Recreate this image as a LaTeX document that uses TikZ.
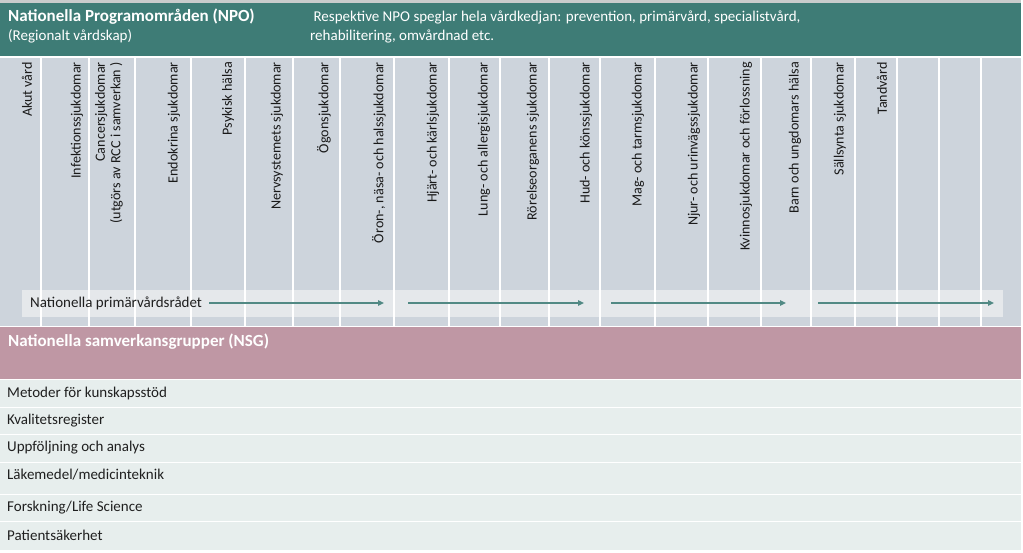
\documentclass[tikz,border=0pt]{standalone}
\usepackage{fontspec}
\setmainfont{Carlito}
\usepackage{tikz}
\definecolor{npoteal}{HTML}{3E7C76}
\definecolor{colgrey}{HTML}{CDD4DC}
\definecolor{bandgrey}{HTML}{E5E8EB}
\definecolor{nsgpink}{HTML}{BF97A4}
\definecolor{rowgrey}{HTML}{E7EEED}
\definecolor{topline}{HTML}{C9CCCC}
\usetikzlibrary{arrows.meta, positioning}

\begin{document}
\begin{tikzpicture}[x=1pt, y=-1pt]
  \tikzstyle{colhead}=[rotate=90, anchor=east, inner sep=0pt, align=right,
    font=\fontsize{14.1}{15.5}\selectfont, text=black!90]
  \tikzstyle{rowtext}=[anchor=west, inner sep=0pt, font=\fontsize{15}{17}\selectfont, text=black!88]
  \tikzstyle{headtext}=[anchor=west, inner sep=0pt, text=white]
  \tikzstyle{colline}=[white, line width=1.5pt]
  \tikzstyle{arr}=[-{Triangle[length=6pt, width=5.5pt]}, line width=2pt, color=npoteal!90]
  \useasboundingbox (0,0) rectangle (1023,553);
  \fill[topline] (0,0) rectangle (1021,3);
  \fill[npoteal] (0,3) rectangle (1021,56);
  \node[headtext, font=\fontsize{17}{20}\bfseries] (npo) at (8,17) {Nationella Programområden (NPO)};
  \node[headtext, font=\fontsize{15}{17}\selectfont] (npo2) [below=11pt of npo.south west, anchor=west] {(Regionalt vårdskap)};
  \node[headtext, align=left, font=\fontsize{15}{19}\selectfont] (npotxt) at (310,26.5)
    {\ Respektive NPO speglar hela vårdkedjan: prevention, primärvård, specialistvård,\\rehabilitering, omvårdnad etc.};
  \fill[colgrey] (0,58) rectangle (1021,326);
  \fill[bandgrey] (22,290) rectangle (1003,317);
  \foreach \x in {41,89,135,191,245,293,340,394,449,500,549,600,655,708,761,811,855,897,939,981}
    \draw[colline] (\x,58) -- (\x,326);
  \foreach \cx/\lbl [count=\i] in {27/Akut vård, 77/Infektionssjukdomar,
      109/{Cancersjukdomar\\(utgörs av RCC i samverkan )}, 174/Endokrina sjukdomar,
      228/Psykisk hälsa, 277/Nervsystemets sjukdomar, 324/Ögonsjukdomar,
      379/{Öron-, näsa- och halssjukdomar}, 433/Hjärt- och kärlsjukdomar,
      484/Lung- och allergisjukdomar, 533/Rörelseorganens sjukdomar,
      586/Hud- och könssjukdomar, 638/Mag- och tarmsjukdomar,
      694/Njur- och urinvägssjukdomar, 746/Kvinnosjukdomar och förlossning,
      795/Barn och ungdomars hälsa, 840/Sällsynta sjukdomar, 882/Tandvård}
    \node[colhead] (c\i) at (\cx,62) {\lbl};
  \node[rowtext] (npr) at (30,303) {Nationella primärvårdsrådet};
  \coordinate (a1e) at (384,303);
  \coordinate (a2s) at (408,303);
  \coordinate (a2e) at (584,303);
  \coordinate (a3s) at (611,303);
  \coordinate (a3e) at (786,303);
  \coordinate (a4s) at (818,303);
  \coordinate (a4e) at (994,303);
  \draw[arr, shorten <=7pt] (npr) -- (a1e);
  \draw[arr] (a2s) -- (a2e);
  \draw[arr] (a3s) -- (a3e);
  \draw[arr] (a4s) -- (a4e);
  \fill[nsgpink] (0,327) rectangle (1021,379);
  \node[headtext, font=\fontsize{17}{20}\bfseries] (nsg) at (8,342) {Nationella samverkansgrupper (NSG)};
  \foreach \top/\bot/\ty/\lbl [count=\i] in {380/407/394/Metoder för kunskapsstöd,
      408/434/421/Kvalitetsregister, 435/462/448/Uppföljning och analys,
      463/494/475/{Läkemedel/medicinteknik}, 495/521/508/{Forskning/Life Science},
      522/550/535/Patientsäkerhet}
    {
    \fill[rowgrey] (0,\top) rectangle (1021,\bot);
    \node[rowtext] (r\i) at (7,\ty) {\lbl};
    }
\end{tikzpicture}
\end{document}
